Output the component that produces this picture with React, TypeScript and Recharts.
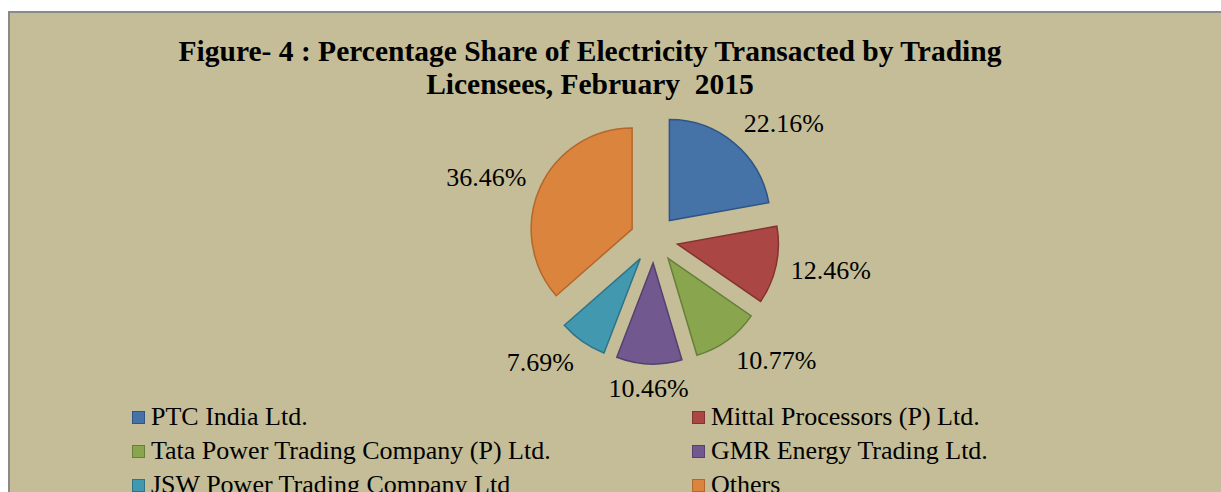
import { PieChart, Pie, Cell, Sector, Legend } from 'recharts';

const traders = [
  'PTC India Ltd.',
  'Mittal Processors (P) Ltd.',
  'Tata Power Trading Company (P) Ltd.',
  'GMR Energy Trading Ltd.',
  'JSW Power Trading Company Ltd',
  'Others',
];
const shares = [22.16, 12.46, 10.77, 10.46, 7.69, 36.46];
const fills = ['#4572a7', '#aa4643', '#89a54e', '#71588f', '#4198af', '#db843d'];
const strokes = ['#2f5585', '#843331', '#66803a', '#54416d', '#2e7488', '#b4672b'];

const RADIAN = Math.PI / 180;
const EXPLODE = 24;
const serif = '"Liberation Serif", "Times New Roman", serif';

const data = traders.map((name, i) => ({ name, value: shares[i] }));

// pull every slice outwards along its bisector
function ExplodedSector(props: any) {
  const { cx, cy, midAngle } = props;
  const dx = EXPLODE * Math.cos(-midAngle * RADIAN);
  const dy = EXPLODE * Math.sin(-midAngle * RADIAN);
  return <Sector {...props} cx={cx + dx} cy={cy + dy} />;
}

function renderLabel(props: any) {
  const { cx, cy, midAngle, value } = props;
  const c = Math.cos(-midAngle * RADIAN);
  const s = Math.sin(-midAngle * RADIAN);
  const x = cx + 140 * c;
  const y = cy + 150 * s;
  const anchor = Math.abs(c) < 0.15 ? 'middle' : c > 0 ? 'start' : 'end';
  return (
    <text
      x={x}
      y={y}
      textAnchor={anchor}
      dominantBaseline="central"
      fill="#000"
      style={{ fontFamily: serif, fontSize: 26 }}
    >
      {`${value.toFixed(2)}%`}
    </text>
  );
}

function LegendBox() {
  return (
    <div
      style={{
        display: 'grid',
        gridTemplateColumns: '560px 500px',
        rowGap: 0,
        fontFamily: serif,
        fontSize: 26,
        color: '#000',
        lineHeight: '34px',
      }}
    >
      {traders.map((name, i) => (
        <div key={name} style={{ display: 'flex', alignItems: 'center', whiteSpace: 'nowrap' }}>
          <span
            style={{
              display: 'inline-block',
              width: 11,
              height: 11,
              background: fills[i],
              border: `1.5px solid ${strokes[i]}`,
              marginRight: 6,
            }}
          />
          {name}
        </div>
      ))}
    </div>
  );
}

export default function App() {
  return (
    <div
      style={{
        position: 'fixed',
        left: 8,
        top: 11,
        width: 1240,
        height: 500,
        border: '2px solid #8a8a8a',
        background: '#c4bd97',
        overflow: 'hidden',
      }}
    >
      <div
        style={{
          position: 'absolute',
          left: 0,
          top: 22,
          width: 1160,
          textAlign: 'center',
          fontFamily: serif,
          fontWeight: 'bold',
          fontSize: 29.5,
          lineHeight: '33px',
          whiteSpace: 'pre',
          color: '#000',
        }}
      >
        {'Figure- 4 : Percentage Share of Electricity Transacted by Trading\nLicensees, February  2015'}
      </div>
      <PieChart width={1213} height={481} style={{ position: 'absolute', left: 0, top: 0 }}>
        <Pie
          data={data}
          dataKey="value"
          nameKey="name"
          cx={639}
          cy={221}
          outerRadius={101}
          startAngle={90}
          endAngle={-270}
          shape={ExplodedSector}
          label={renderLabel}
          labelLine={false}
          isAnimationActive={false}
        >
          {data.map((d, i) => (
            <Cell key={d.name} fill={fills[i]} stroke={strokes[i]} strokeWidth={1.5} />
          ))}
        </Pie>
        <Legend
          content={() => <LegendBox />}
          wrapperStyle={{ position: 'absolute', left: 122, top: 387, width: 1080 }}
        />
      </PieChart>
    </div>
  );
}
